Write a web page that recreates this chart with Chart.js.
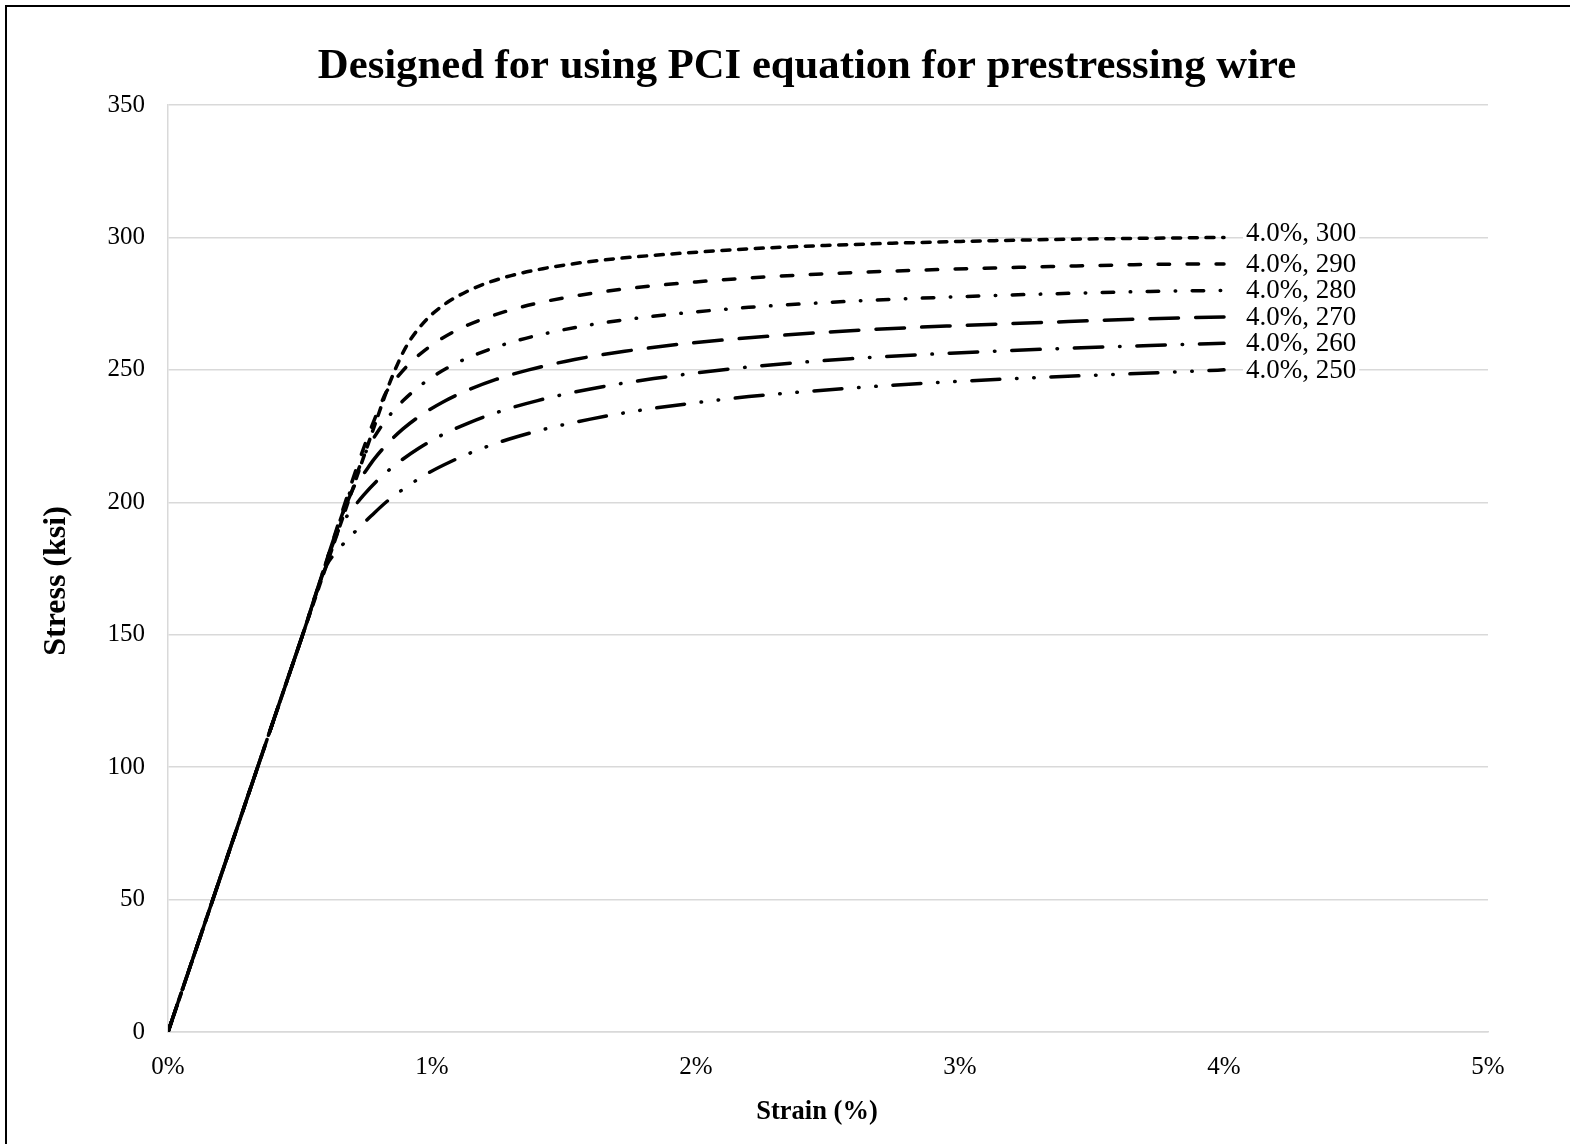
<!DOCTYPE html>
<html>
<head>
<meta charset="utf-8">
<script src="https://cdn.jsdelivr.net/npm/chart.js@4/dist/chart.umd.min.js"></script>
<style>
  html, body { margin: 0; padding: 0; background: #fff; }
  #wrap { width: 1570px; height: 1144px; position: relative; }
</style>
</head>
<body>
<div id="wrap"><canvas id="c"></canvas></div>
<script>
// ---- data (strain in %, stress in ksi) ----
const chartTitle = 'Designed for using PCI equation for prestressing wire';
const xTitle = 'Strain (%)';
const yTitle = 'Stress (ksi)';
const xTicks = [0, 1, 2, 3, 4, 5];
const yTicks = [0, 50, 100, 150, 200, 250, 300, 350];
const grades = [300, 290, 280, 270, 260, 250];

const strain300 = [0, 0.5, 0.8, 0.83, 0.86, 0.9, 0.95, 1.0, 1.06, 1.13, 1.2, 1.3, 1.42, 1.56, 1.73, 1.94, 2.2, 2.585, 2.964, 3.343, 3.72, 4.0];
const stress300 = [0, 147, 234, 242.5, 250, 258.4, 265.7, 271.0, 275.6, 279.5, 282.5, 285.6, 288.2, 290.4, 292.3, 294.0, 295.7, 297.3, 298.4, 299.2, 299.7, 300];

const strain290 = [0, 0.5, 0.82, 0.85, 0.88, 0.92, 0.97, 1.03, 1.1, 1.18, 1.28, 1.4, 1.56, 1.75, 2.0, 2.2, 2.585, 2.964, 3.343, 3.72, 4.0];
const stress290 = [0, 147, 240.3, 244.8, 248.6, 252.9, 257.2, 261.4, 265.3, 268.7, 272.1, 275.2, 278.2, 280.8, 283.2, 284.7, 286.7, 288.0, 289.0, 289.8, 290];

const strain280 = [0, 0.5, 0.74, 0.77, 0.8, 0.84, 0.89, 0.95, 1.02, 1.1, 1.19, 1.3, 1.43, 1.6, 1.8, 2.0, 2.2, 2.585, 2.964, 3.343, 3.72, 4.0];
const stress280 = [0, 147, 217.0, 222.7, 227.5, 232.9, 238.3, 243.6, 248.5, 252.9, 256.7, 260.4, 263.7, 267.0, 269.8, 271.9, 273.6, 275.9, 277.5, 278.7, 279.6, 280];

const strain270 = [0, 0.5, 0.705, 0.74, 0.78, 0.83, 0.89, 0.96, 1.04, 1.13, 1.24, 1.37, 1.54, 1.73, 1.95, 2.2, 2.585, 2.964, 3.343, 3.72, 4.0];
const stress270 = [0, 147, 206, 210.6, 216.2, 222.0, 227.7, 233.0, 237.8, 242.1, 246.3, 250.1, 253.9, 257.0, 259.8, 262.1, 264.8, 266.6, 268.0, 269.3, 270];

const strain260 = [0, 0.5, 0.65, 0.69, 0.74, 0.8, 0.87, 0.95, 1.04, 1.14, 1.26, 1.4, 1.6, 1.84, 2.2, 2.585, 2.964, 3.343, 3.72, 4.0];
const stress260 = [0, 147, 190.4, 196.3, 202.6, 208.9, 214.8, 220.4, 225.5, 230.0, 234.4, 238.4, 242.8, 246.7, 251.1, 254.2, 256.3, 257.9, 259.2, 260];

const strain250 = [0, 0.5, 0.6, 0.64, 0.68, 0.72, 0.77, 0.83, 0.9, 0.98, 1.07, 1.17, 1.29, 1.43, 1.6, 1.8, 2.0, 2.2, 2.585, 2.964, 3.343, 3.72, 4.0];
const stress250 = [0, 147, 176, 181.5, 186, 190, 194.9, 200.4, 205.6, 210.7, 215.3, 219.6, 223.8, 227.7, 231.4, 234.9, 237.6, 239.9, 243.1, 245.5, 247.3, 248.8, 250];

const strains = [strain300, strain290, strain280, strain270, strain260, strain250];
const stresses = [stress300, stress290, stress280, stress270, stress260, stress250];

// ---- styles ----
const FONT = "'Liberation Serif', 'Times New Roman', serif";
const dashes = [
  [8, 8.7],
  [11.5, 17.5],
  [11.5, 16.5, 0.5, 16.5],
  [28.5, 17.2],
  [28.5, 16.8, 0.5, 16.8],
  [28, 16.7, 0.5, 16.7, 0.5, 16.7]
];

const datasets = grades.map((g, i) => ({
  label: String(g),
  data: strains[i].map((x, k) => ({ x: x, y: stresses[i][k] })),
  showLine: true,
  borderColor: '#000',
  backgroundColor: '#000',
  borderWidth: 3.5,
  borderDash: dashes[i],
  borderCapStyle: 'round',
  borderJoinStyle: 'round',
  pointRadius: 0,
  pointHoverRadius: 0,
  cubicInterpolationMode: 'monotone',
  fill: false
}));

const decor = {
  id: 'decor',
  afterDatasetsDraw(chart) {
    const ctx = chart.ctx;
    ctx.save();
    ctx.font = '27px ' + FONT;
    ctx.textBaseline = 'middle';
    ctx.textAlign = 'left';
    chart.data.datasets.forEach((ds, i) => {
      const last = ds.data[ds.data.length - 1];
      const px = chart.scales.x.getPixelForValue(last.x);
      const py = chart.scales.y.getPixelForValue(last.y);
      const txt = last.x.toFixed(1) + '%, ' + last.y;
      const w = ctx.measureText(txt).width;
      const lx = px + 22, ly = py - (i === 0 ? 5 : 0);
      ctx.fillStyle = '#fff';
      ctx.fillRect(lx - 3, ly - 12, w + 6, 24);
      ctx.fillStyle = '#000';
      ctx.fillText(txt, lx, ly + 1);
    });
    ctx.restore();
  },
  afterDraw(chart) {
    const ctx = chart.ctx;
    ctx.save();
    ctx.fillStyle = '#000';
    ctx.textAlign = 'center';
    ctx.textBaseline = 'middle';
    ctx.font = 'bold 42.7px ' + FONT;
    ctx.fillText(chartTitle, 807, 67);
    ctx.font = 'bold 26.5px ' + FONT;
    ctx.fillText(xTitle, 817, 1112);
    ctx.translate(57, 581);
    ctx.rotate(-Math.PI / 2);
    ctx.font = 'bold 32px ' + FONT;
    ctx.fillText(yTitle, 0, 0);
    ctx.restore();
    ctx.save();
    ctx.strokeStyle = '#000';
    ctx.lineWidth = 2;
    ctx.strokeRect(6, 6, 1600, 1200);
    ctx.restore();
  }
};

new Chart(document.getElementById('c'), {
  type: 'scatter',
  data: { datasets },
  options: {
    responsive: true,
    maintainAspectRatio: false,
    animation: false,
    layout: { padding: { top: 105, left: 0, right: 82, bottom: 0 } },
    plugins: { legend: { display: false }, tooltip: { enabled: false }, title: { display: false } },
    scales: {
      x: {
        type: 'linear',
        min: 0, max: 5,
        afterFit: s => { s.height = 112; },
        afterBuildTicks: s => { s.ticks = xTicks.map(v => ({ value: v })); },
        grid: { display: false, drawTicks: false },
        border: { display: true, color: '#d9d9d9', width: 1.5 },
        ticks: {
          padding: 20,
          color: '#000',
          font: { family: FONT, size: 25 },
          callback: v => v + '%'
        }
      },
      y: {
        type: 'linear',
        min: 0, max: 350,
        afterFit: s => { s.width = 168; },
        afterBuildTicks: s => { s.ticks = yTicks.map(v => ({ value: v })); },
        grid: { display: true, color: '#d9d9d9', lineWidth: 1.5, drawTicks: false },
        border: { display: true, color: '#d9d9d9', width: 1.5 },
        ticks: {
          padding: 23,
          color: '#000',
          font: { family: FONT, size: 25 }
        }
      }
    }
  },
  plugins: [decor]
});
</script>
</body>
</html>
